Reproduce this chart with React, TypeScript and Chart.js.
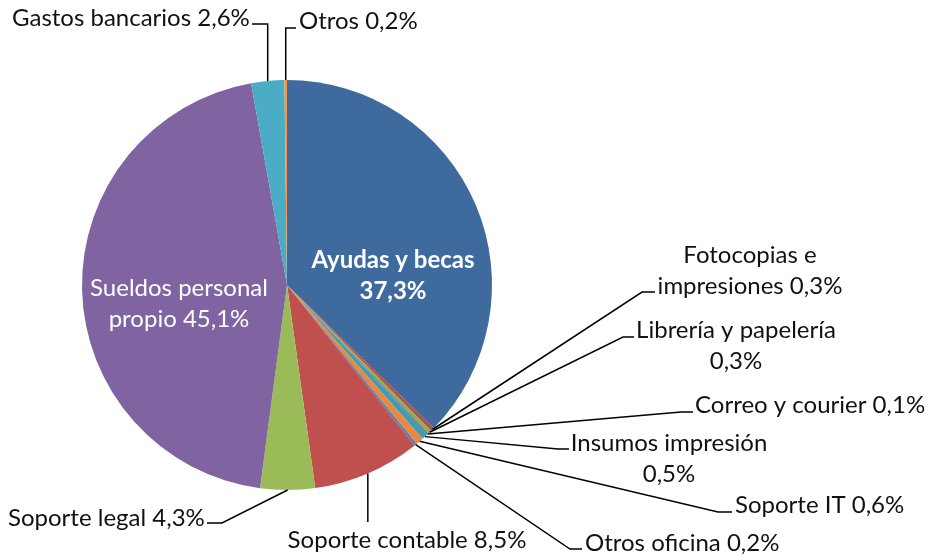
import React, { useEffect, useRef } from "react";
import { Chart, registerables } from "chart.js";

Chart.register(...registerables);

const categories = [
  "Ayudas y becas",
  "Fotocopias e impresiones",
  "Librería y papelería",
  "Correo y courier",
  "Insumos impresión",
  "Soporte IT",
  "Otros oficina",
  "Soporte contable",
  "Soporte legal",
  "Sueldos personal propio",
  "Gastos bancarios",
  "Otros",
];
const values = [37.3, 0.3, 0.3, 0.1, 0.5, 0.6, 0.2, 8.5, 4.3, 45.1, 2.6, 0.2];
const colors = [
  "#3F6A9E",
  "#B84A47",
  "#8FAE52",
  "#76609A",
  "#3F9CB5",
  "#E8893E",
  "#4F81BD",
  "#C0504D",
  "#9BBB59",
  "#8064A2",
  "#4BACC6",
  "#F79646",
];

type LabelLayout = {
  x: number;
  y: number;
  align: CanvasTextAlign;
  split: number; // words on first line (0 = single line)
  inside?: boolean;
  bold?: boolean;
  elbow?: [number, number];
  end?: [number, number];
  vertical?: boolean;
};

const labelLayout: LabelLayout[] = [
  { x: 393, y: 260, align: "center", split: 3, inside: true, bold: true },
  { x: 750, y: 255, align: "center", split: 2, elbow: [642, 292], end: [655, 292] },
  { x: 736, y: 330, align: "center", split: 3, elbow: [623, 337], end: [634, 337] },
  { x: 695, y: 405, align: "left", split: 0, elbow: [681, 412], end: [693, 412] },
  { x: 669, y: 443, align: "center", split: 2, elbow: [558, 449], end: [569, 449] },
  { x: 735, y: 505, align: "left", split: 0, elbow: [718, 512], end: [732, 512] },
  { x: 585, y: 543, align: "left", split: 0, elbow: [570, 549], end: [582, 549] },
  { x: 407, y: 540, align: "center", split: 0, elbow: [0, 522], vertical: true },
  { x: 8, y: 518, align: "left", split: 0, elbow: [222, 523], end: [207, 523] },
  { x: 179, y: 288, align: "center", split: 2, inside: true },
  { x: 12, y: 18, align: "left", split: 0, elbow: [0, 24], end: [252, 24], vertical: true },
  { x: 299, y: 21, align: "left", split: 0, elbow: [0, 28], end: [296, 28], vertical: true },
];

const FONT_FAMILY = "Lato, 'Noto Sans', sans-serif";
const FONT_SIZE = 24;
const LINE_H = 31;

const fmt = (v: number) => v.toFixed(1).replace(".", ",") + "%";

const labelPlugin = {
  id: "pieLabels",
  afterDatasetsDraw(chart: any) {
    const ctx: CanvasRenderingContext2D = chart.ctx;
    const meta = chart.getDatasetMeta(0);
    ctx.save();
    meta.data.forEach((arc: any, i: number) => {
      const L = labelLayout[i];
      if (!L) return;
      const { x, y, startAngle, endAngle, outerRadius } = arc.getProps(
        ["x", "y", "startAngle", "endAngle", "outerRadius"],
        true
      );
      const mid = (startAngle + endAngle) / 2;
      const ax = x + Math.cos(mid) * outerRadius;
      const ay = y + Math.sin(mid) * outerRadius;
      if (L.elbow) {
        ctx.strokeStyle = "#000";
        ctx.lineWidth = 1.5;
        ctx.beginPath();
        ctx.moveTo(ax, ay);
        const ex = L.vertical ? ax : L.elbow[0];
        ctx.lineTo(ex, L.elbow[1]);
        if (L.end) ctx.lineTo(L.end[0], L.end[1]);
        ctx.stroke();
      }
      const words = (categories[i] + " " + fmt(values[i])).split(" ");
      const lines =
        L.split > 0
          ? [words.slice(0, L.split).join(" "), words.slice(L.split).join(" ")]
          : [words.join(" ")];
      ctx.font = `${L.bold ? "bold " : ""}${FONT_SIZE}px ${FONT_FAMILY}`;
      ctx.fillStyle = L.inside ? "#ffffff" : "#111111";
      ctx.textAlign = L.align;
      ctx.textBaseline = "middle";
      lines.forEach((t, k) => ctx.fillText(t, L.x, L.y + k * LINE_H));
    });
    ctx.restore();
  },
};

export default function App() {
  const ref = useRef<HTMLCanvasElement>(null);
  useEffect(() => {
    if (!ref.current) return;
    const chart = new Chart(ref.current, {
      type: "pie",
      data: {
        labels: categories,
        datasets: [
          {
            data: values,
            backgroundColor: colors,
            borderWidth: 0,
          },
        ],
      },
      options: {
        responsive: false,
        animation: false,
        layout: { padding: { left: 82, right: 441, top: 80, bottom: 66 } },
        plugins: { legend: { display: false }, tooltip: { enabled: false } },
      },
      plugins: [labelPlugin],
    });
    return () => chart.destroy();
  }, []);
  return (
    <div style={{ position: "absolute", left: 0, top: 0, width: 933, height: 556, background: "#fff" }}>
      <canvas ref={ref} width={933} height={556} />
    </div>
  );
}
